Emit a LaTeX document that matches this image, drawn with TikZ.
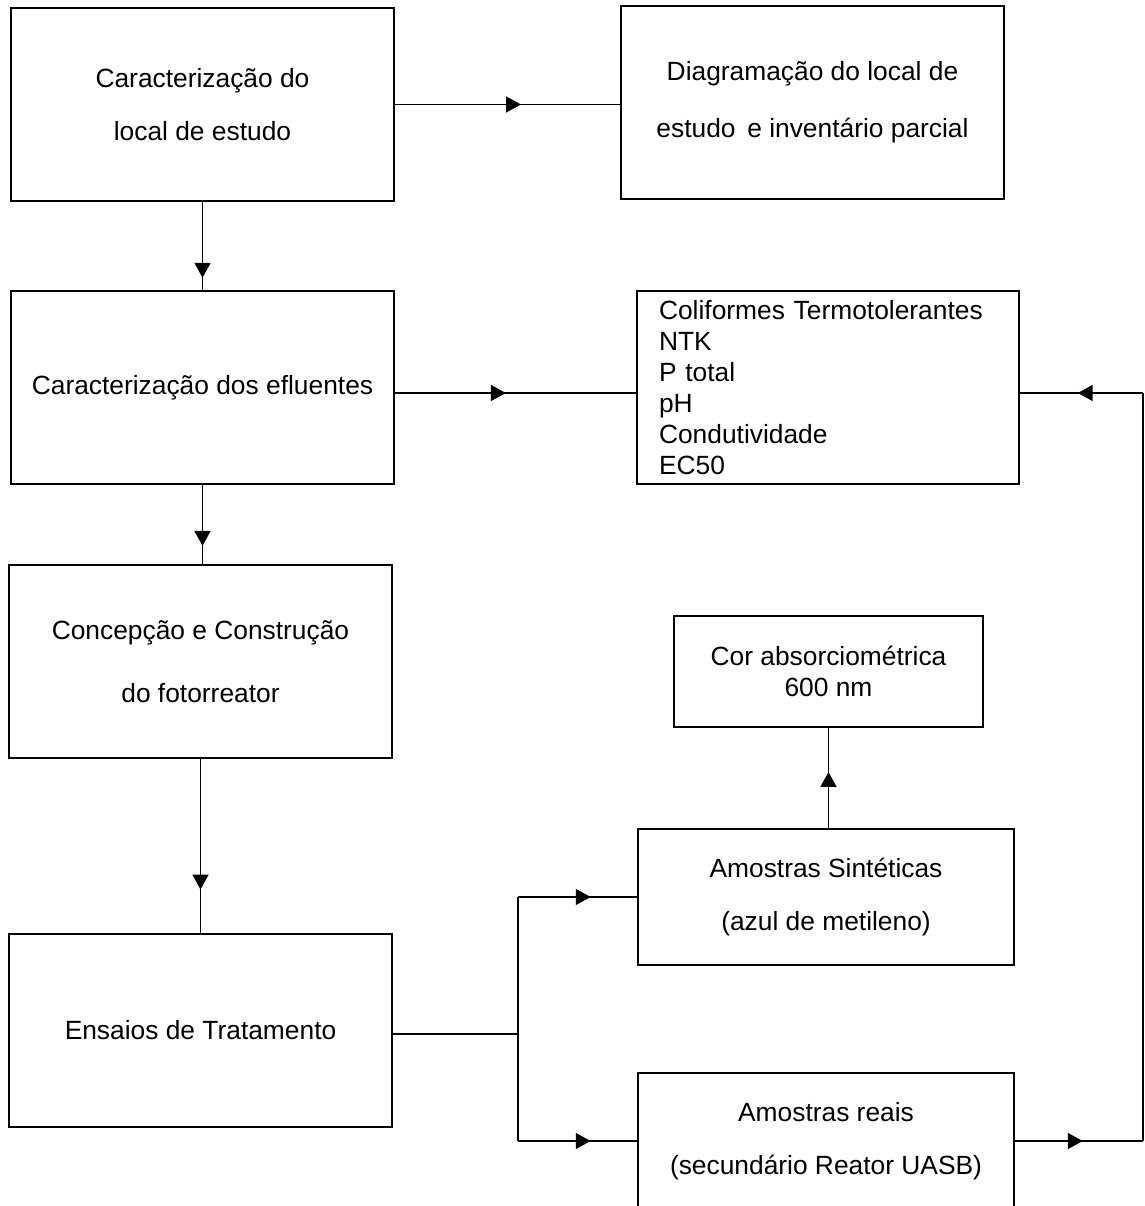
\documentclass[tikz,border=0pt]{standalone}
\usepackage{fontspec}
\setmainfont{Liberation Sans}
\usetikzlibrary{arrows.meta,decorations.markings,calc}
\tikzset{
	->-/.style={decoration={
			markings,
			mark=at position #1 with {\arrow{Triangle[length=8.5pt,width=9pt]}}},postaction={decorate}},
	etapa/.style={draw, line width=1pt, minimum width=7.66cm, minimum height=3.86cm,
			align=center, font=\fontsize{15}{17.6}\selectfont}
}

\begin{document}
\begin{tikzpicture}[x=0.02cm, y=-0.02cm, line width=1.1pt]
	\useasboundingbox (0,0) rectangle (1145,1206);
	\node[etapa] (local) at (202.5,104.5) {Caracterização do\\[12.5pt]local de estudo};
	\node[etapa] (diag) at (812.5,102.5) {Diagramação do local de\\[14.7pt]estudo \,e inventário parcial};
	\node[etapa] (eflu) at (202.5,387.5) {Caracterização dos efluentes};
	\node[etapa, minimum width=7.64cm, align=left, text width=6.76cm, inner xsep=0.44cm] (param) at (828,387.5) {Coliformes Termotolerantes\\NTK\\P total\\pH\\Condutividade\\EC50};
	\node[etapa] (foto) at (200.5,661.5) {Concepção e Construção\\[18pt]do fotorreator};
	\node[etapa, minimum width=6.18cm, minimum height=2.22cm] (cor) at (828.5,671.5) {Cor absorciométrica\\600 nm};
	\node[etapa] (ensaio) at (200.5,1030.5) {Ensaios de Tratamento};
	\node[etapa, minimum width=7.52cm, minimum height=2.72cm] (sint) at (826,897) {Amostras Sintéticas\\[13pt](azul de metileno)};
	\node[etapa, minimum width=7.52cm, minimum height=2.72cm] (reais) at (826,1141) {Amostras reais\\[12.5pt](secundário Reator UASB)};
	\coordinate (split) at (518,1034);
	\coordinate (borda) at (1143,393);
	% coluna da esquerda
	\draw[->-=0.56] (local.east) -- (local.east -| diag.west);
	\draw[->-=0.86] (local) -- (eflu);
	\draw[->-=0.46] (eflu.east |- borda) -- (param.west |- borda);
	\draw[->-=0.77] (eflu.south) -- (eflu.south |- foto.north);
	\draw[->-=0.75] (foto) -- (ensaio);
	% ramificacao dos ensaios
	\draw (ensaio.east |- split) -- (split);
	\draw (split |- sint.west) -- (split |- reais.west);
	\draw[->-=0.61] (split |- sint.west) -- (sint.west);
	\draw[->-=0.61] (split |- reais.west) -- (reais.west);
	\draw[->-=0.56] (sint.north -| cor.south) -- (cor.south);
	% retorno pela borda
	\draw[->-=0.53] (reais.east) -- (reais.east -| borda);
	\draw (reais.east -| borda) -- (borda);
	\draw[->-=0.53] (borda) -- (param.east |- borda);
\end{tikzpicture}
\end{document}
